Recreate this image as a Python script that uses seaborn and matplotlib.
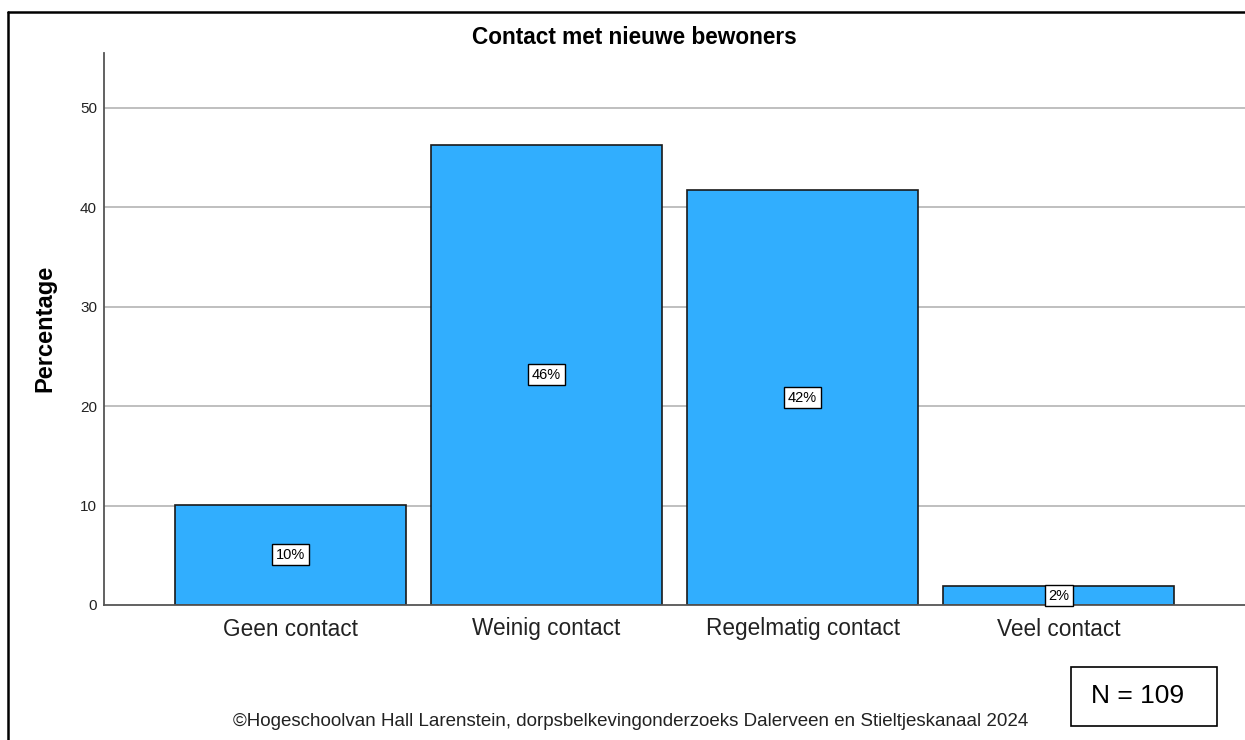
import matplotlib
matplotlib.use("Agg")
import matplotlib.pyplot as plt
import seaborn as sns
import pandas as pd
from matplotlib.lines import Line2D
from matplotlib.patches import Rectangle

categories = ["Geen contact", "Weinig contact", "Regelmatig contact", "Veel contact"]
values = [10.1, 46.3, 41.7, 1.9]
labels = ["10%", "46%", "42%", "2%"]
yticks = [0, 10, 20, 30, 40, 50]

sns.set_theme(style="white")
plt.rcParams["font.family"] = ["Liberation Sans", "DejaVu Sans"]

df = pd.DataFrame({"cat": categories, "val": values})

fig = plt.figure(figsize=(12.45, 7.4), dpi=100)
ax = fig.add_axes([104/1245, 1-605/740, 1-104/1245, (605-53)/740])

ax.set_axisbelow(True)
for t in yticks[1:]:
    ax.axhline(t, color="#b4b4b4", lw=1.2, zorder=0)

sns.barplot(data=df, x="cat", y="val", order=categories, color="#31aefe",
            saturation=1, width=0.9, edgecolor="#1a1a1a", linewidth=1.2, ax=ax, zorder=2)

for i, (v, lab) in enumerate(zip(values, labels)):
    ax.text(i, v/2, lab, ha="center", va="center", fontsize=10.5, color="black", zorder=5,
            bbox=dict(boxstyle="square,pad=0.25", fc="white", ec="black", lw=1))

ax.set_xlim(-0.727, 3.727)
ax.set_ylim(0, 55.5)
ax.set_yticks(yticks)
ax.tick_params(axis="y", labelsize=11, colors="#222222", length=3, direction="in", pad=5)
ax.tick_params(axis="x", labelsize=16.3, colors="#222222", length=0, pad=9)
ax.set_xlabel("")
ax.set_ylabel("")

fig.text(45/1245, 1-328/740, "Percentage", rotation=90, ha="center", va="center",
         fontsize=17, fontweight="bold", color="black")
fig.text(634/1245, 1-38/740, "Contact met nieuwe bewoners", ha="center", va="center",
         fontsize=16.3, fontweight="bold", color="black")

for s in ["top", "right"]:
    ax.spines[s].set_visible(False)
for s in ["left", "bottom"]:
    ax.spines[s].set_color("#555555")
    ax.spines[s].set_linewidth(1.3)

fig.text(631/1245, 1-721/740, "\u00a9Hogeschoolvan Hall Larenstein, dorpsbelkevingonderzoeks Dalerveen en Stieltjeskanaal 2024",
         ha="center", va="center", fontsize=13.5, color="#222222")

fig.patches.append(Rectangle((1071/1245, 1-726/740), (1217-1071)/1245, (726-667)/740,
                             transform=fig.transFigure, fill=False, ec="black", lw=1.2))
fig.text(1138/1245, 1-696/740, "N = 109", ha="center", va="center", fontsize=19, color="black")

fig.lines.append(Line2D([8/1245, 8/1245], [0, 1-12/740], transform=fig.transFigure, color="black", lw=1.8))
fig.lines.append(Line2D([8/1245, 1], [1-12/740, 1-12/740], transform=fig.transFigure, color="black", lw=1.8))

fig.savefig("out.png", dpi=100)
